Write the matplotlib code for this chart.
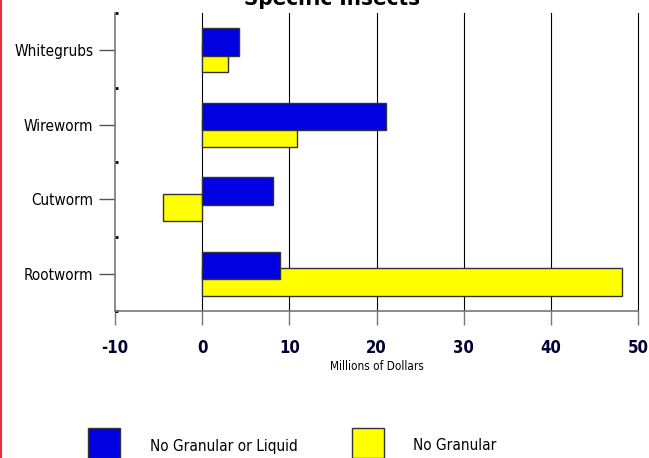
import matplotlib
matplotlib.use("Agg")
import matplotlib.pyplot as plt
from matplotlib.patches import Rectangle
from matplotlib.lines import Line2D

plt.rcParams["font.family"] = ["DejaVu Sans"]
plt.rcParams["font.stretch"] = "condensed"

# Data
insects = ["Rootworm", "Cutworm", "Wireworm", "Whitegrubs"]
no_gran_or_liquid = [8.9, 8.1, 21.1, 4.2]
no_granular = [48.2, -4.5, 10.9, 3.0]
series_labels = ["No Granular or Liquid", "No Granular"]
xticks = [-10, 0, 10, 20, 30, 40, 50]

BLUE = "#0000E0"
YELLOW = "#FFFF00"
EDGE = "#333333"

fig = plt.figure(figsize=(6.49, 4.58), dpi=100)
ax = fig.add_axes([115 / 649, 1 - 311 / 458, 523 / 649, 298 / 458])

ypos = list(range(len(insects)))
h = 0.37
ax.barh([y - 0.11 for y in ypos], no_granular, height=h, color=YELLOW,
        edgecolor=EDGE, linewidth=1.0, zorder=3)
ax.barh([y + 0.11 for y in ypos], no_gran_or_liquid, height=h, color=BLUE,
        edgecolor=EDGE, linewidth=1.0, zorder=4)

ax.set_xlim(-10, 50)
ax.set_ylim(-0.5, 3.5)

# vertical grid lines
for v in xticks[1:]:
    ax.axvline(v, color="black", linewidth=0.8, zorder=1, clip_on=False)

ax.set_xticks(xticks)
ax.set_xticklabels([str(t) for t in xticks], fontsize=12, fontweight="bold",
                   color="#000033")
ax.tick_params(axis="x", direction="out", length=10, width=1, color="#777777", pad=10)

ax.set_yticks(ypos)
ax.set_yticklabels(insects, fontsize=11)
ax.tick_params(axis="y", direction="out", length=11.5, width=1, color="#555555", pad=4)
ax.set_yticks([-0.5, 0.5, 1.5, 2.5, 3.5], minor=True)
ax.tick_params(axis="y", which="minor", direction="in", length=2, width=2, color="black")

for s in ["top", "right"]:
    ax.spines[s].set_visible(False)
ax.spines["left"].set_color("#777777")
ax.spines["bottom"].set_color("#777777")
ax.spines["left"].set_linewidth(1.2)
ax.spines["bottom"].set_linewidth(1.2)

ax.set_xlabel("Millions of Dollars", fontsize=8.5, labelpad=2)

# title sits partly above the figure edge
fig.text(0.512, 1 - 5 / 458, "Specific Insects", ha="center", va="baseline",
         fontsize=16, fontweight="bold")

# legend
fig.patches.append(Rectangle((88 / 649, 0), 32 / 649, 30 / 458,
                             transform=fig.transFigure, facecolor=BLUE,
                             edgecolor=EDGE, linewidth=1))
fig.patches.append(Rectangle((352 / 649, 0), 32 / 649, 30 / 458,
                             transform=fig.transFigure, facecolor=YELLOW,
                             edgecolor=EDGE, linewidth=1))
fig.text(150 / 649, 1 - 446 / 458, series_labels[0], fontsize=11, va="center")
fig.text(413 / 649, 1 - 446 / 458, series_labels[1], fontsize=11, va="center")

# left red border
fig.lines.append(Line2D([1 / 649, 1 / 649], [0, 1], transform=fig.transFigure,
                        color="#E8303A", linewidth=1.5))

fig.savefig("out.png", dpi=100)
